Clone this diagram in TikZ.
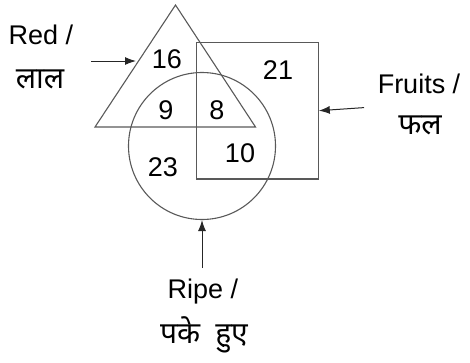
\documentclass[tikz,border=0pt]{standalone}
\usepackage{fontspec}
\setmainfont{Liberation Sans}
\newfontfamily\hindi[Script=Devanagari]{Noto Sans}
\usetikzlibrary{arrows.meta}
\begin{document}
\begin{tikzpicture}[x=1pt,y=-1pt,
  shape line/.style={draw=black!65, line width=1.1pt},
  pointer/.style={draw=black!85, line width=1pt, -{Latex[length=11pt,width=8pt]}},
  num/.style={font=\fontsize{27}{30}\selectfont, inner sep=0pt},
  lbl/.style={font=\fontsize{27}{30}\selectfont, inner sep=0pt},
  hlbl/.style={font=\hindi\fontsize{30}{34}\selectfont, inner sep=0pt}]
\useasboundingbox (0,0) rectangle (470,362);
% triangle
\coordinate (apex) at (175.5,5);
\coordinate (bl) at (95,127);
\coordinate (br) at (255.5,127);
\draw[shape line] (apex) -- (bl) -- (br) -- cycle;
% rectangle
\node[shape line, rectangle, minimum width=121.5pt, minimum height=136.5pt, inner sep=0pt] (fruit) at (257.5,110.7) {};
% circle
\node[shape line, circle, minimum size=147pt, inner sep=0pt] (ripe) at (202,146) {};
% numbers
\node[num] (n16) at (167,59) {16};
\node[num] (n21) at (278,70) {21};
\node[num] (n9) at (166,110) {9};
\node[num] (n8) at (217,110) {8};
\node[num] (n10) at (240,153) {10};
\node[num] (n23) at (163,167) {23};
% labels
\node[lbl] (red) at (41,35) {Red /};
\node[hlbl] (redh) at (40,79) {लाल};
\node[lbl] (fr) at (419,84) {Fruits /};
\node[hlbl] (frh) at (420,125) {फल};
\node[lbl] (rp) at (203,292) {Ripe /};
\node[hlbl] (rph) at (204,335) {पके\hspace{0.5em}हुए};
% arrows
\coordinate (ra) at (91,61);
\coordinate (ta) at (136,61);
\draw[pointer] (ra) -- (ta);
\coordinate (fa) at (364,107.6);
\draw[pointer] (fa) -- (fruit.east);
\coordinate (pa) at (202,268);
\draw[pointer] (pa) -- (ripe.south);
\end{tikzpicture}
\end{document}
